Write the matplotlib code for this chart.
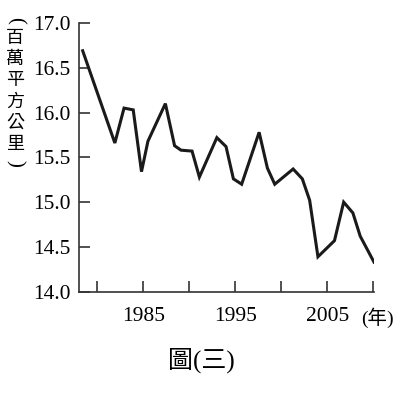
import matplotlib
matplotlib.use("Agg")
import matplotlib.pyplot as plt

# values (year, million km^2)
years = [1978.4, 1981.9, 1982.9, 1983.9, 1984.8, 1985.5, 1987.4, 1988.4,
         1989.1, 1990.3, 1991.1, 1993.0, 1994.0, 1994.8, 1995.7, 1997.6,
         1998.5, 1999.3, 2001.3, 2002.3, 2003.1, 2004.0, 2005.8, 2006.8,
         2007.8, 2008.6, 2010.1]
area = [16.69, 15.66, 16.05, 16.03, 15.34, 15.68, 16.10, 15.63,
        15.58, 15.57, 15.28, 15.72, 15.62, 15.26, 15.20, 15.78,
        15.38, 15.20, 15.37, 15.26, 15.02, 14.39, 14.57, 15.00,
        14.88, 14.62, 14.33]

x_ticks = [1980, 1985, 1990, 1995, 2000, 2005, 2010]
x_labels = ["", "1985", "", "1995", "", "2005", ""]
y_ticks = [14.0, 14.5, 15.0, 15.5, 16.0, 16.5, 17.0]
ylabel_chars = ["百", "萬", "平", "方", "公", "里"]

plt.rcParams["font.family"] = ["Liberation Serif", "Noto Sans CJK TC"]
cjk = ["Noto Sans CJK TC", "Liberation Serif"]

W, H = 420, 395
fig = plt.figure(figsize=(W / 100, H / 100), dpi=100)
ax = fig.add_axes([79 / W, 1 - 291.7 / H, (374 - 79) / W, (291.7 - 23) / H])

ax.plot(years, area, color="#1a1a1a", linewidth=2.2, solid_joinstyle="miter")

ax.set_xlim(1978.0, 2010.1)
ax.set_ylim(14.0, 17.0)
ax.spines["top"].set_visible(False)
ax.spines["right"].set_visible(False)
for s in ("left", "bottom"):
    ax.spines[s].set_linewidth(1.2)
    ax.spines[s].set_color("#333333")

ax.set_xticks(x_ticks)
ax.set_xticklabels(x_labels)
ax.set_yticks(y_ticks)
ax.set_yticklabels([f"{v:.1f}" for v in y_ticks])
ax.tick_params(direction="in", length=8, width=1.2, color="#333333",
               labelsize=15.5, pad=11)
ax.tick_params(axis="y", pad=6)

# unit of x axis
fig.text(377 / W, 1 - 318 / H, "(年)", fontsize=14, ha="center", va="center")

# vertical y label
fig.text(15 / W, 1 - 20 / H, "(", fontsize=15, rotation=-90,
         ha="center", va="center")
y0 = 37.5
for i, ch in enumerate(ylabel_chars):
    fig.text(15 / W, 1 - (y0 + i * 21.3) / H, ch, family=cjk, fontsize=13,
             ha="center", va="center")
fig.text(15 / W, 1 - 163 / H, ")", fontsize=15, rotation=-90,
         ha="center", va="center")

# caption
fig.text(201 / W, 1 - 360 / H, "圖(三)", fontsize=18, ha="center", va="center")

fig.savefig("out.png", dpi=100)
